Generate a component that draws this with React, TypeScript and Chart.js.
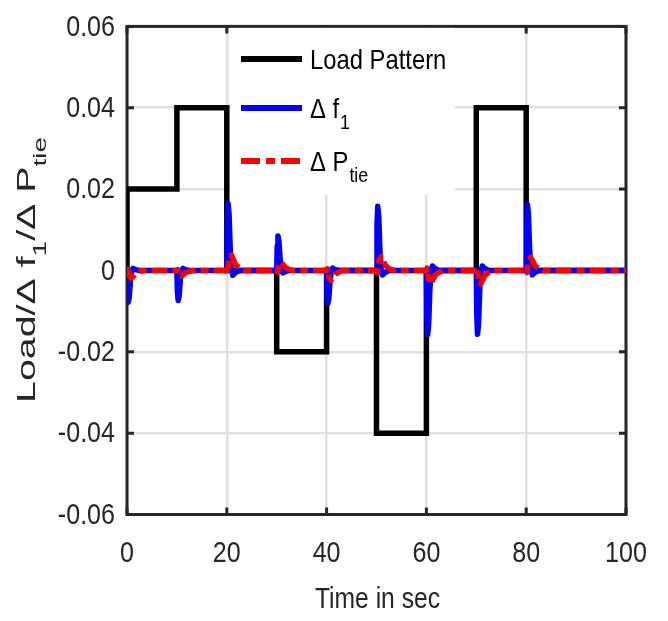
import { useEffect, useRef } from 'react';
import { Chart, registerables } from 'chart.js';

Chart.register(...registerables);

// ---------- data ----------
const xTickLabels = ['0', '20', '40', '60', '80', '100'];
const yTickLabels = ['-0.06', '-0.04', '-0.02', '0', '0.02', '0.04', '0.06'];
const xTitle = 'Time in sec';

const seriesNames = ['Load Pattern', 'Δ f', 'Δ P'];
const seriesSubs = ['', '1', 'tie'];

const loadTime = [0, 0, 10, 20, 30, 40, 50, 60, 70, 80, 100];
const loadValue = [0, 0.02, 0.04, 0, -0.02, 0, -0.04, 0, 0.04, 0, 0];

const freqTime = [
  0, 0.1, 0.25, 0.45, 0.7, 0.95, 1.2, 1.7, 2.5,
  10, 10.1, 10.25, 10.45, 10.7, 10.95, 11.2, 11.7, 12.5,
  20, 20.1, 20.25, 20.45, 20.7, 20.95, 21.2, 21.7, 22.5,
  30, 30.1, 30.25, 30.45, 30.7, 30.95, 31.2, 31.7, 32.5,
  40, 40.1, 40.25, 40.45, 40.7, 40.95, 41.2, 41.7, 42.5,
  50, 50.1, 50.25, 50.45, 50.7, 50.95, 51.2, 51.7, 52.5,
  60, 60.1, 60.25, 60.45, 60.7, 60.95, 61.2, 61.7, 62.5,
  70, 70.1, 70.25, 70.45, 70.7, 70.95, 71.2, 71.7, 72.5,
  80, 80.1, 80.25, 80.45, 80.7, 80.95, 81.2, 81.7, 82.5,
  100,
];
const freqValue = [
  0, -0.0055, -0.0078, -0.0066, -0.0023, -0.0002, 0.0005, 0.0002, 0,
  0, -0.0052, -0.0074, -0.0063, -0.0022, -0.0001, 0.0005, 0.0002, 0,
  0, 0.0116, 0.0165, 0.014, 0.005, 0.0003, -0.0012, -0.0005, 0,
  0, 0.006, 0.0085, 0.0072, 0.0026, 0.0002, -0.0006, -0.0003, 0,
  0, -0.0057, -0.0081, -0.0069, -0.0024, -0.0002, 0.0006, 0.0002, 0,
  0, 0.0111, 0.0158, 0.0134, 0.0047, 0.0003, -0.0011, -0.0005, 0,
  0, -0.0111, -0.0158, -0.0134, -0.0047, -0.0003, 0.0011, 0.0005, 0,
  0, -0.011, -0.0157, -0.0133, -0.0047, -0.0003, 0.0011, 0.0005, 0,
  0, 0.0113, 0.0162, 0.0138, 0.0049, 0.0003, -0.0011, -0.0005, 0,
  0,
];

const tieTime = [
  0, 0.15, 0.5, 0.9, 1.3, 1.8, 2.6, 3.5,
  10, 10.15, 10.5, 10.9, 11.3, 11.8, 12.6, 13.5,
  20, 20.15, 20.5, 20.9, 21.3, 21.8, 22.6, 23.5,
  30, 30.15, 30.5, 30.9, 31.3, 31.8, 32.6, 33.5,
  40, 40.15, 40.5, 40.9, 41.3, 41.8, 42.6, 43.5,
  50, 50.15, 50.5, 50.9, 51.3, 51.8, 52.6, 53.5,
  60, 60.15, 60.5, 60.9, 61.3, 61.8, 62.6, 63.5,
  70, 70.15, 70.5, 70.9, 71.3, 71.8, 72.6, 73.5,
  80, 80.15, 80.5, 80.9, 81.3, 81.8, 82.6, 83.5,
  100,
];
const tieValue = [
  0, 0.0003, -0.0013, -0.0019, -0.0014, -0.0007, -0.0002, 0,
  0, 0.0002, -0.001, -0.0014, -0.001, -0.0005, -0.0002, 0,
  0, -0.0007, 0.0027, 0.0038, 0.0028, 0.0014, 0.0005, 0,
  0, -0.0004, 0.0014, 0.002, 0.0014, 0.0007, 0.0002, 0,
  0, 0.0004, -0.0017, -0.0024, -0.0017, -0.0009, -0.0003, 0,
  0, -0.0006, 0.0024, 0.0034, 0.0024, 0.0012, 0.0004, 0,
  0, 0.0006, -0.0023, -0.0033, -0.0023, -0.0011, -0.0004, 0,
  0, 0.0006, -0.0023, -0.0033, -0.0023, -0.0011, -0.0004, 0,
  0, -0.0005, 0.0023, 0.0032, 0.0023, 0.0011, 0.0004, 0,
  0,
];

// ---------- styling ----------
const REGULAR = '"Liberation Sans", Arial, sans-serif';
const CONDENSE = 0.85;
const AXIS_COLOR = '#262626';
const GRID_COLOR = '#e0e0e0';
const LOAD_COLOR = '#000000';
const FREQ_COLOR = '#0000ff';
const TIE_COLOR = '#ff0000';
const TIE_DASH = [16, 5, 8, 5];

const toPoints = (t: number[], v: number[]) => t.map((x, i) => ({ x, y: v[i] }));

function condensedText(
  ctx: CanvasRenderingContext2D,
  text: string,
  x: number,
  y: number,
  size: number,
  align: CanvasTextAlign,
  baseline: CanvasTextBaseline,
  color: string,
) {
  ctx.save();
  ctx.translate(x, y);
  ctx.scale(CONDENSE, 1);
  ctx.font = `${size}px ${REGULAR}`;
  ctx.textAlign = align;
  ctx.textBaseline = baseline;
  ctx.fillStyle = color;
  ctx.fillText(text, 0, 0);
  const w = ctx.measureText(text).width * CONDENSE;
  ctx.restore();
  return w;
}

const overlayPlugin = {
  id: 'overlay',
  beforeDatasetsDraw(chart: any) {
    const { ctx, chartArea: a, scales } = chart;
    const xs = scales.x;
    const ys = scales.y;
    ctx.save();
    ctx.strokeStyle = AXIS_COLOR;
    ctx.lineWidth = 3;
    ctx.beginPath();
    const tl = 7;
    for (const t of xs.ticks) {
      const px = xs.getPixelForValue(t.value);
      ctx.moveTo(px, a.bottom);
      ctx.lineTo(px, a.bottom - tl);
      ctx.moveTo(px, a.top);
      ctx.lineTo(px, a.top + tl);
    }
    for (const t of ys.ticks) {
      const py = ys.getPixelForValue(t.value);
      ctx.moveTo(a.left, py);
      ctx.lineTo(a.left + tl, py);
      ctx.moveTo(a.right, py);
      ctx.lineTo(a.right - tl, py);
    }
    ctx.stroke();
    ctx.strokeRect(a.left, a.top, a.right - a.left, a.bottom - a.top);
    ctx.restore();

    xs.ticks.forEach((t: any, i: number) => {
      condensedText(ctx, xTickLabels[i], xs.getPixelForValue(t.value), a.bottom + 39, 29.5, 'center', 'middle', AXIS_COLOR);
    });
    ys.ticks.forEach((t: any, i: number) => {
      condensedText(ctx, yTickLabels[i], a.left - 12, ys.getPixelForValue(t.value) + 1, 29.5, 'right', 'middle', AXIS_COLOR);
    });
    condensedText(ctx, xTitle, (a.left + a.right) / 2 + 1, a.bottom + 85, 29, 'center', 'middle', AXIS_COLOR);
  },
  afterDatasetsDraw(chart: any) {
    const { ctx, chartArea: a } = chart;
    ctx.save();
    const bx = a.left + 103;
    const by = a.top + 1.5;
    const bw = 225;
    const bh = 167;
    ctx.fillStyle = '#ffffff';
    ctx.fillRect(bx, by, bw, bh);
    const rows = [31, 80, 133];
    const colors = [LOAD_COLOR, FREQ_COLOR, TIE_COLOR];
    for (let i = 0; i < 3; i++) {
      const ry = by + rows[i];
      ctx.beginPath();
      ctx.strokeStyle = colors[i];
      ctx.lineWidth = 6;
      ctx.lineCap = 'butt';
      ctx.setLineDash(i === 2 ? [19, 6, 9, 6] : []);
      ctx.moveTo(bx + 11, ry);
      ctx.lineTo(bx + 72, ry);
      ctx.stroke();
      ctx.setLineDash([]);
      const tx = bx + 80;
      const w = condensedText(ctx, seriesNames[i], tx, ry + 10, 28, 'left', 'alphabetic', '#000000');
      if (seriesSubs[i]) {
        condensedText(ctx, seriesSubs[i], tx + w + 1, ry + 21, 21, 'left', 'alphabetic', '#000000');
      }
    }
    ctx.restore();
  },
  afterDraw(chart: any) {
    const { ctx } = chart;
    const parts = [
      { t: 'Load/Δ f', sub: false },
      { t: '1', sub: true },
      { t: '/Δ P', sub: false },
      { t: 'tie', sub: true },
    ];
    const mainSize = 31;
    const subSize = 22;
    ctx.save();
    let total = 0;
    const widths: number[] = [];
    for (const p of parts) {
      ctx.font = `${p.sub ? subSize : mainSize}px ${REGULAR}`;
      const w = ctx.measureText(p.t).width;
      widths.push(w);
      total += w;
    }
    const target = 266;
    const stretch = target / total;
    ctx.translate(35, 270);
    ctx.rotate(-Math.PI / 2);
    ctx.scale(stretch, 0.82);
    ctx.fillStyle = AXIS_COLOR;
    ctx.textAlign = 'left';
    ctx.textBaseline = 'alphabetic';
    let x = -total / 2;
    parts.forEach((p, i) => {
      ctx.font = `${p.sub ? subSize : mainSize}px ${REGULAR}`;
      ctx.fillText(p.t, x, p.sub ? 13 : 0);
      x += widths[i];
    });
    ctx.restore();
  },
};

export default function App() {
  const canvasRef = useRef<HTMLCanvasElement | null>(null);

  useEffect(() => {
    const canvas = canvasRef.current;
    if (!canvas) return;
    const chart = new Chart(canvas, {
      type: 'line',
      data: {
        datasets: [
          {
            label: 'Load Pattern',
            data: toPoints(loadTime, loadValue),
            borderColor: LOAD_COLOR,
            borderWidth: 5.5,
            stepped: 'before',
            borderJoinStyle: 'miter',
            pointRadius: 0,
            fill: false,
            order: 3,
          },
          {
            label: 'Δ f1',
            data: toPoints(freqTime, freqValue),
            borderColor: FREQ_COLOR,
            borderWidth: 5.5,
            borderJoinStyle: 'round',
            borderCapStyle: 'round',
            pointRadius: 0,
            fill: false,
            order: 2,
          },
          {
            label: 'Δ Ptie',
            data: toPoints(tieTime, tieValue),
            borderColor: TIE_COLOR,
            borderWidth: 5.5,
            borderDash: TIE_DASH,
            borderJoinStyle: 'round',
            pointRadius: 0,
            fill: false,
            order: 1,
          },
        ],
      },
      options: {
        responsive: false,
        animation: false,
        devicePixelRatio: 1,
        layout: { padding: { left: 0, top: 19.5, right: 34.5, bottom: 0 } },
        plugins: {
          legend: { display: false },
          tooltip: { enabled: false },
        },
        elements: { point: { radius: 0 }, line: { tension: 0 } },
        scales: {
          x: {
            type: 'linear',
            min: 0,
            max: 100,
            ticks: {
              stepSize: 20,
              maxRotation: 0,
              padding: 22,
              color: 'rgba(0,0,0,0)',
              font: { family: REGULAR, size: 24 },
              callback: (_v: any, i: number) => xTickLabels[i],
            },
            grid: { color: GRID_COLOR, lineWidth: 2.5, drawTicks: false },
            border: { display: false },
            afterFit: (s: any) => {
              s.height = 106.5;
            },
          },
          y: {
            type: 'linear',
            min: -0.06,
            max: 0.06,
            ticks: {
              stepSize: 0.02,
              padding: 12,
              color: 'rgba(0,0,0,0)',
              font: { family: REGULAR, size: 24 },
              callback: (_v: any, i: number) => yTickLabels[i],
            },
            grid: { color: GRID_COLOR, lineWidth: 2.5, drawTicks: false },
            border: { display: false },
            afterFit: (s: any) => {
              s.width = 127;
            },
          },
        },
      } as any,
      plugins: [overlayPlugin],
    });
    return () => chart.destroy();
  }, []);

  return (
    <div style={{ position: 'fixed', left: 0, top: 0, width: 668, height: 621, background: '#fff' }}>
      <canvas ref={canvasRef} width={668} height={621} style={{ display: 'block' }} />
    </div>
  );
}
